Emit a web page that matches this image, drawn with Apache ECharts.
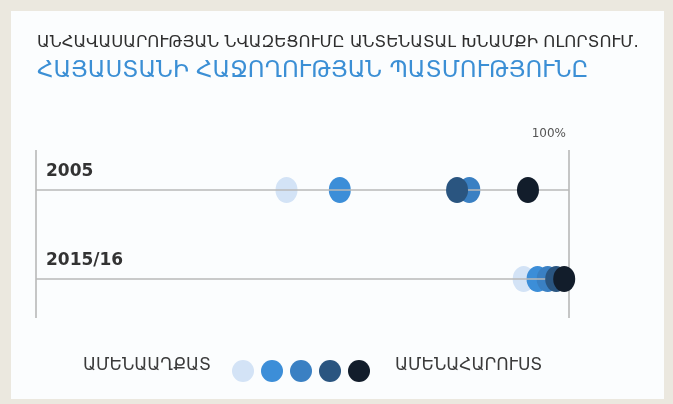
<!DOCTYPE html>
<html>
<head>
<meta charset="utf-8">
<script src="https://cdn.jsdelivr.net/npm/echarts@6/dist/echarts.min.js"></script>
<style>
html,body{margin:0;padding:0;background:#ebe8df;}
#chart{width:673px;height:404px;}
</style>
</head>
<body>
<div id="chart"></div>
<script>
const titleLine1 = 'ԱՆՀԱՎԱՍԱՐՈՒԹՅԱՆ ՆՎԱԶԵՑՈՒՄԸ ԱՆՏԵՆԱՏԱԼ ԽՆԱՄՔԻ ՈԼՈՐՏՈՒՄ.';
const titleLine2 = 'ՀԱՅԱՍՏԱՆԻ ՀԱՋՈՂՈՒԹՅԱՆ ՊԱՏՄՈՒԹՅՈՒՆԸ';
const rows = ['2005', '2015/16'];
const quintiles = ['1', '2', '3', '4', '5'];
const q1 = [47, 91.5];
const q2 = [57, 94.1];
const q3 = [81.3, 96];
const q4 = [79, 97.6];
const q5 = [92.3, 99.1];
const colors = ['#d3e3f6', '#3c8ed8', '#3a80c3', '#2a5580', '#121d2b'];
const legendLeftText = 'ԱՄԵՆԱԱՂՔԱՏ';
const legendRightText = 'ԱՄԵՆԱՀԱՐՈՒՍՏ';
const xTickLabel = '100%';

const FONT = '"DejaVu Sans", sans-serif';
const ellipse = 'path://M50,0A50,50 0 1 1 50,100A50,50 0 1 1 50,0Z';
const values = [q1, q2, q3, q4, q5];

const chart = echarts.init(document.getElementById('chart'));
const series = [{
  type: 'scatter', name: 'rows', data: [], z: 1, silent: true,
  markLine: {
    silent: true, symbol: ['none', 'none'], label: {show: false},
    lineStyle: {color: '#b9b9b9', width: 1.5, type: 'solid'},
    data: rows.map((r, i) => ({yAxis: i}))
  }
}];
values.forEach((v, qi) => {
  series.push({
    type: 'scatter', name: quintiles[qi], z: 2 + qi,
    symbol: ellipse, symbolSize: [22, 26],
    itemStyle: {color: colors[qi], opacity: 1},
    data: v.map((x, ri) => [x, ri])
  });
});

chart.setOption({
  backgroundColor: '#ebe8df',
  animation: false,
  graphic: [
    {type: 'rect', z: -10, shape: {x: 11, y: 11, width: 653, height: 388}, style: {fill: '#fbfdfe'}},
    {type: 'text', left: 83, top: 357, style: {text: legendLeftText, font: '17px ' + FONT, fill: '#3a3a3a'}},
    {type: 'text', left: 395, top: 357, style: {text: legendRightText, font: '17px ' + FONT, fill: '#3a3a3a'}}
  ],
  title: {
    text: titleLine1, subtext: titleLine2, left: 32, top: 29, itemGap: 9,
    textStyle: {fontFamily: FONT, fontSize: 16.5, fontWeight: 'normal', color: '#2e2e2e'},
    subtextStyle: {fontFamily: FONT, fontSize: 23, color: '#3b8fd5'}
  },
  legend: {
    data: quintiles, left: 227, top: 353, icon: ellipse, itemWidth: 22, itemHeight: 26,
    itemGap: 7, formatter: () => '', selectedMode: false
  },
  grid: {left: 36, right: 104, top: 150, height: 168},
  xAxis: {
    type: 'value', position: 'top', min: 0, max: 100, interval: 100,
    axisLine: {show: false}, axisTick: {show: false},
    splitLine: {show: true, lineStyle: {color: '#b3b3b3', width: 1.5}},
    axisLabel: {margin: 10, fontFamily: FONT, fontSize: 12, color: '#555', align: 'right',
      padding: [0, 3, 0, 0],
      formatter: v => v === 100 ? xTickLabel : ''}
  },
  yAxis: {
    type: 'value', inverse: true, min: -0.449, max: 1.438,
    axisLine: {show: false}, axisTick: {show: false}, splitLine: {show: false},
    axisLabel: {
      inside: true, margin: 10, align: 'left', verticalAlign: 'bottom',
      customValues: [0, 1], padding: [0, 0, 10, 0],
      fontFamily: FONT, fontSize: 17, fontWeight: 'bold', color: '#333',
      formatter: v => rows[Math.round(v)]
    }
  },
  series: series
});
</script>
</body>
</html>
